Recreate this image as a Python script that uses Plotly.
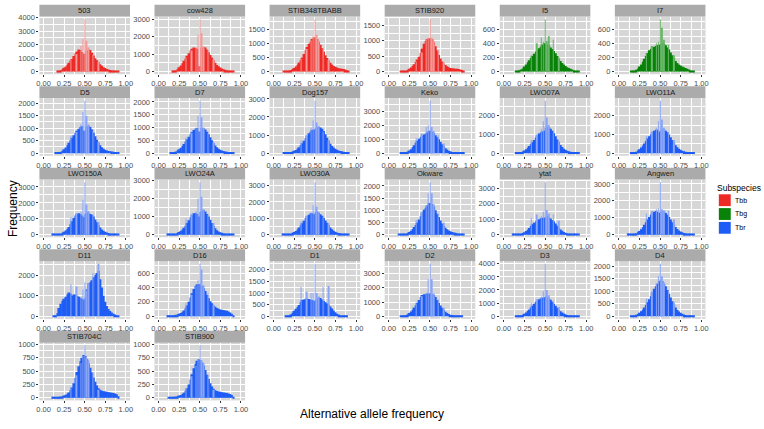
import plotly.graph_objects as go

# ---------------- data ----------------
SAMPLES = ["503", "cow428", "STIB348TBABB", "STIB920", "I5", "I7",
           "D5", "D7", "Dog157", "Keko", "LWO07A", "LWO11A",
           "LWO150A", "LWO24A", "LWO30A", "Okware", "ytat", "Angwen",
           "D11", "D16", "D1", "D2", "D3", "D4",
           "STIB704C", "STIB900"]
SUBSPECIES = ["Tbb", "Tbb", "Tbb", "Tbb", "Tbg", "Tbg"] + ["Tbr"] * 20
Y_DTICK = [1000, 1000, 500, 500, 200, 200,
           500, 500, 1000, 1000, 1000, 1000,
           1000, 1000, 1000, 500, 1000, 1000,
           1000, 200, 500, 1000, 1000, 500,
           250, 250]

# histogram bin centres (bin width 0.02)
BINS = [0.09, 0.11, 0.13, 0.15, 0.17, 0.19, 0.21, 0.23, 0.25, 0.27, 0.29, 0.31,
        0.33, 0.35, 0.37, 0.39, 0.41, 0.43, 0.45, 0.47, 0.49, 0.51, 0.53, 0.55,
        0.57, 0.59, 0.61, 0.63, 0.65, 0.67, 0.69, 0.71, 0.73, 0.75, 0.77, 0.79,
        0.81, 0.83, 0.85, 0.87, 0.89, 0.91]
# narrow spikes at frequent allele ratios
SPIKE_X = [0.333, 0.4, 0.455, 0.476, 0.5, 0.524, 0.545, 0.6, 0.667]

B_503 = [0,0,0,0,10,40, 90,170,280,380,520,650, 820,950,1150,1350,1500,1650,
         1600,1450,1300,1350,1550,1650, 1600,1400,1200,1000,850,700,
         550,430,330,260,200,160, 120,90,70,50,30,10]
S_503 = [900,1300,1900,2400,3900,2300,1800,1250,750]
B_cow428 = [0,0,0,0,10,30, 70,140,250,350,480,620, 750,900,1050,1200,1300,1380,
            1350,1300,300,300,1350,1400, 1380,1250,1100,950,800,650,
            500,380,300,230,170,130, 100,70,50,30,15,5]
S_cow428 = [800,1200,1400,2100,3000,2200,1450,1200,700]
B_STIB348 = [0,0,5,15,25,40, 60,90,130,180,250,320, 400,500,620,750,870,980,
             1050,1150,1200,1200,1150,1050, 950,820,700,580,480,390,
             310,250,200,170,140,120, 110,100,90,70,50,20]
S_STIB348 = [450,800,1100,1250,1850,1300,1100,800,420]
B_STIB920 = [0,0,0,5,10,20, 35,55,90,130,180,240, 310,390,480,600,750,900,
             1000,1050,1080,1080,1050,950, 820,680,540,420,330,260,
             210,170,140,120,110,100, 95,90,85,70,50,20]
S_STIB920 = [330,620,1020,1100,1700,1100,1000,700,300]
B_I5 = [0,0,0,5,10,20, 30,45,70,100,130,160, 190,220,250,280,300,330,
        350,380,400,390,380,370, 340,320,290,260,220,180,
        150,120,100,80,60,50, 40,30,20,15,10,5]
S_I5 = [230,400,480,420,740,430,500,450,200]
B_I7 = [0,0,0,5,10,15, 25,40,70,100,140,180, 220,260,300,320,340,350,
        360,370,380,390,400,390, 370,340,310,270,230,190,
        150,120,100,85,70,60, 50,40,30,20,15,5]
S_I7 = [250,360,400,420,740,620,450,380,230]
B_D5 = [0,0,0,5,15,30, 60,100,160,230,320,420, 520,620,720,820,900,980,
        1050,1080,900,900,1060,1100, 1050,950,820,680,540,420,
        320,240,180,140,110,90, 80,70,55,40,25,10]
S_D5 = [700,850,1150,1650,2100,1500,1150,900,450]
B_D7 = [0,0,0,5,15,35, 60,100,150,210,280,360, 450,540,640,740,830,900,
        950,980,850,850,980,960, 920,840,740,620,500,390,
        300,230,170,130,100,80, 60,50,40,30,20,10]
S_D7 = [600,800,1000,1450,2050,1400,1000,800,420]
B_Dog157 = [0,0,5,15,25,40, 60,90,130,180,250,330, 430,550,680,820,960,1100,
            1200,1280,1300,1350,1420,1450, 1420,1350,1220,1050,850,680,
            520,400,310,240,190,150, 120,100,80,60,40,20]
S_Dog157 = [700,1000,1400,1800,2900,1700,1500,1200,700]
B_Keko = [0,0,0,5,15,30, 60,110,190,290,420,580, 750,900,1050,1150,1250,1350,
          1400,1500,1600,1650,1550,1450, 1300,1150,1000,830,650,500,
          360,260,180,130,90,60, 45,35,25,15,10,5]
S_Keko = [1100,1400,1900,2000,3800,1900,1600,1300,700]
B_LWO07A = [0,0,0,5,15,30, 55,90,140,210,290,380, 480,580,700,830,950,1050,
            1100,1150,1200,1350,1400,1380, 1300,1200,1060,900,730,580,
            440,330,240,180,130,100, 80,60,45,30,20,10]
S_LWO07A = [700,1000,1300,1700,2800,1900,1500,1100,650]
B_LWO11A = [0,0,0,5,15,40, 80,140,210,300,400,520, 650,780,900,1000,1100,1200,
            1250,1250,1150,1200,1300,1250, 1200,1120,1000,850,700,560,
            420,320,240,180,130,100, 80,60,45,30,20,10]
S_LWO11A = [900,1150,1350,1700,2800,1800,1350,1100,700]
B_LWO150A = [0,5,10,20,35,55, 80,120,180,260,360,480, 650,850,1050,1200,1300,1350,
             1300,1200,1100,1300,1400,1350, 1300,1250,1150,950,780,600,
             450,330,240,180,130,100, 80,65,50,35,20,10]
S_LWO150A = [1100,1350,1450,2200,3300,1900,1500,1300,800]
B_LWO24A = [0,5,10,20,30,45, 65,100,150,210,290,380, 500,640,800,950,1080,1180,
            1200,1150,1000,1250,1320,1350, 1280,1150,1000,820,640,480,
            350,250,180,130,100,80, 65,55,45,30,20,10]
S_LWO24A = [900,1150,1300,2000,2900,2100,1400,1100,650]
B_LWO30A = [0,5,10,20,30,45, 70,110,160,230,320,430, 560,700,850,1000,1120,1220,
            1300,1300,1250,1350,1400,1320, 1250,1150,1020,870,720,580,
            440,330,240,180,130,100, 80,65,50,35,20,10]
S_LWO30A = [800,1150,1350,1800,3200,1700,1400,1100,700]
B_Okware = [0,0,5,10,20,30, 45,70,110,160,230,310, 400,500,620,760,900,1020,
            1100,1200,1300,1300,1250,1150, 1000,860,720,580,460,360,
            280,220,170,140,110,90, 75,60,45,30,20,10]
S_Okware = [600,900,1200,1700,2150,1700,1250,850,500]
B_ytat = [0,5,10,20,30,45, 70,110,160,230,320,430, 560,680,780,860,930,1000,
          1060,1100,1100,1150,1200,1120, 1050,950,850,720,580,450,
          340,250,180,130,95,70, 55,45,35,25,15,5]
S_ytat = [1100,1300,1200,1500,3400,1600,1350,1300,900]
B_Angwen = [0,5,10,20,35,55, 90,140,220,320,440,580, 740,900,1050,1180,1280,1360,
            1400,1350,1300,1350,1400,1350, 1280,1180,1050,900,740,590,
            450,340,250,190,140,100, 80,60,45,30,20,10]
S_Angwen = [1250,1400,1500,1550,3100,1500,1450,1400,900]
B_D11 = [0,0,5,30,150,400, 600,750,850,950,1050,1150, 1100,1000,1050,1050,1000,950,
         900,850,800,900,1300,1600, 1650,1750,1900,2000,2100,2200,
         1800,1400,1000,700,500,350, 250,180,120,80,40,10]
S_D11 = [1550,1450,900,1300,1650,1250,1600,2100,2550]
B_D16 = [0,5,5,10,10,15, 20,25,35,45,60,80, 110,150,200,260,320,380,
         420,440,450,440,420,390, 350,300,250,210,180,150,
         130,115,105,95,90,85, 80,75,65,50,35,15]
S_D16 = [180,300,420,500,730,650,430,320,160]
B_D1 = [0,0,0,5,15,40, 80,150,230,320,400,480, 600,700,720,750,760,740,
        720,700,650,680,750,800, 780,720,650,600,550,500,
        420,330,250,170,110,70, 40,25,15,10,5,0]
S_D1 = [1250,1050,1000,1000,2250,1000,850,1250,1300]
B_D2 = [0,0,0,5,15,40, 80,140,230,340,470,620, 780,950,1150,1350,1500,1550,
        1550,1600,1600,1600,1550,1500, 1350,1150,950,760,590,440,
        320,230,160,110,80,55, 40,30,20,10,5,0]
S_D2 = [900,1400,1600,2600,3700,2600,1600,1200,600]
B_D3 = [0,0,0,5,15,35, 70,120,190,280,390,520, 660,800,950,1080,1200,1300,
        1350,1400,1450,1500,1450,1350, 1250,1100,950,800,650,500,
        380,280,200,140,100,70, 50,35,25,15,10,5]
S_D3 = [1000,1300,1500,1900,4000,2000,1600,1200,700]
B_D4 = [0,0,0,5,15,30, 55,90,140,200,270,350, 450,560,680,800,950,1100,
        1200,1300,1400,1450,1400,1300, 1200,1050,900,750,600,470,
        350,260,190,140,100,70, 50,40,30,20,10,5]
S_D4 = [700,1000,1300,1600,2100,1600,1350,1000,550]
B_STIB704C = [0,5,5,10,15,20, 25,30,40,55,75,100, 140,190,270,370,480,590,
              680,750,800,780,720,640, 560,470,380,300,230,180,
              150,130,120,115,110,105, 100,95,90,80,65,30]
S_STIB704C = [200,420,650,780,980,750,700,470,150]
B_STIB900 = [0,0,5,10,15,20, 25,30,40,50,70,95, 130,180,250,340,440,550,
             630,690,720,700,660,600, 520,430,350,270,210,170,
             140,125,115,110,105,100, 95,90,80,70,50,20]
S_STIB900 = [180,400,600,720,980,700,650,420,150]

BODIES = [B_503, B_cow428, B_STIB348, B_STIB920, B_I5, B_I7,
          B_D5, B_D7, B_Dog157, B_Keko, B_LWO07A, B_LWO11A,
          B_LWO150A, B_LWO24A, B_LWO30A, B_Okware, B_ytat, B_Angwen,
          B_D11, B_D16, B_D1, B_D2, B_D3, B_D4, B_STIB704C, B_STIB900]
SPIKES = [S_503, S_cow428, S_STIB348, S_STIB920, S_I5, S_I7,
          S_D5, S_D7, S_Dog157, S_Keko, S_LWO07A, S_LWO11A,
          S_LWO150A, S_LWO24A, S_LWO30A, S_Okware, S_ytat, S_Angwen,
          S_D11, S_D16, S_D1, S_D2, S_D3, S_D4, S_STIB704C, S_STIB900]
X_TICKS = [0, 0.25, 0.5, 0.75, 1.0]
LEGEND_LEVELS = ["Tbb", "Tbg", "Tbr"]

# ---------------- style ----------------
W, H = 764, 429
COLORS = {"Tbb": "#EE2A26", "Tbg": "#088208", "Tbr": "#1D5CF5"}
LIGHT = {"Tbb": "#F29A97", "Tbg": "#6AB66A", "Tbr": "#8AA5F5"}
PANEL_BG = "#D6D6D6"
STRIP_BG = "#ABABAB"
FONT = "Liberation Sans, Arial, sans-serif"
NCOL = 6
X0, DX, PW = 36.7, 116.0, 91.3
Y0, DY, PH = 12.7, 82.7, 58.5
STRIP_H = 12.0


def px(x):
    return x / W


def py(y):
    return 1 - y / H


fig = go.Figure()
layout = {}
shapes = []
annotations = []

for i, name in enumerate(SAMPLES):
    r, c = divmod(i, NCOL)
    k = "" if i == 0 else str(i + 1)
    sub = SUBSPECIES[i]
    left = X0 + DX * c
    top = Y0 + DY * r
    fig.add_trace(go.Bar(x=BINS, y=BODIES[i], width=0.024,
                         marker=dict(color=COLORS[sub], line=dict(width=0)),
                         xaxis="x" + k, yaxis="y" + k, showlegend=False,
                         hoverinfo="skip"))
    fig.add_trace(go.Bar(x=SPIKE_X, y=SPIKES[i], width=0.007,
                         marker=dict(color=LIGHT[sub], line=dict(width=0)),
                         xaxis="x" + k, yaxis="y" + k, showlegend=False,
                         hoverinfo="skip"))
    ymax = max(max(BODIES[i]), max(SPIKES[i]))
    dt = Y_DTICK[i]
    layout["xaxis" + k] = dict(
        domain=[px(left), px(left + PW)], anchor="y" + k,
        range=[-0.05, 1.05], tickvals=X_TICKS, tickformat=".2f",
        showgrid=True, gridcolor="white", gridwidth=1,
        minor=dict(showgrid=True, gridcolor="white", gridwidth=0.5,
                   tickvals=[0.125, 0.375, 0.625, 0.875]),
        zeroline=False, ticks="outside", ticklen=2, tickwidth=0.6,
        tickcolor="#333333", tickfont=dict(size=7.5, color="#4D4D4D"),
        showline=False, fixedrange=True)
    layout["yaxis" + k] = dict(
        domain=[py(top + PH), py(top)], anchor="x" + k,
        range=[-0.05 * ymax, 1.05 * ymax], dtick=dt, tick0=0, tickformat="d",
        showgrid=True, gridcolor="white", gridwidth=1,
        minor=dict(showgrid=True, gridcolor="white", gridwidth=0.5,
                   dtick=dt / 2, tick0=dt / 2),
        zeroline=False, ticks="outside", ticklen=2, tickwidth=0.6,
        tickcolor="#333333", tickfont=dict(size=7.5, color="#4D4D4D"),
        showline=False, fixedrange=True)
    shapes.append(dict(type="rect", xref="paper", yref="paper",
                       x0=px(left), x1=px(left + PW),
                       y0=py(top), y1=py(top - STRIP_H),
                       fillcolor=STRIP_BG, line=dict(width=0), layer="below"))
    annotations.append(dict(text=name, xref="paper", yref="paper",
                            x=px(left + PW / 2), y=py(top - STRIP_H / 2),
                            showarrow=False, xanchor="center", yanchor="middle",
                            font=dict(size=7.5, color="#1A1A1A")))

# axis titles
annotations.append(dict(text="Frequency", xref="paper", yref="paper",
                        x=px(10), y=py(207), textangle=-90, showarrow=False,
                        xanchor="center", yanchor="middle",
                        font=dict(size=12, color="black")))
annotations.append(dict(text="Alternative allele frequency", xref="paper", yref="paper",
                        x=px(372), y=py(416), showarrow=False,
                        xanchor="center", yanchor="middle",
                        font=dict(size=12, color="black")))

# legend
annotations.append(dict(text="Subspecies", xref="paper", yref="paper",
                        x=px(718), y=py(186.5), showarrow=False,
                        xanchor="left", yanchor="middle",
                        font=dict(size=8.5, color="black")))
for j, lev in enumerate(LEGEND_LEVELS):
    ty = 193 + 14 * j
    shapes.append(dict(type="rect", xref="paper", yref="paper",
                       x0=px(721.5), x1=px(733.5), y0=py(ty + 12), y1=py(ty),
                       fillcolor=COLORS[lev], line=dict(width=0)))
    annotations.append(dict(text=lev, xref="paper", yref="paper",
                            x=px(736), y=py(ty + 6), showarrow=False,
                            xanchor="left", yanchor="middle",
                            font=dict(size=7, color="black")))

fig.update_layout(**layout)
fig.update_layout(width=W, height=H, margin=dict(l=0, r=0, t=0, b=0),
                  paper_bgcolor="white", plot_bgcolor=PANEL_BG,
                  barmode="overlay", showlegend=False,
                  font=dict(family=FONT),
                  shapes=shapes, annotations=annotations)

fig.write_html("out.html", config={"displayModeBar": False},
               post_script="document.body.style.margin='0';")
